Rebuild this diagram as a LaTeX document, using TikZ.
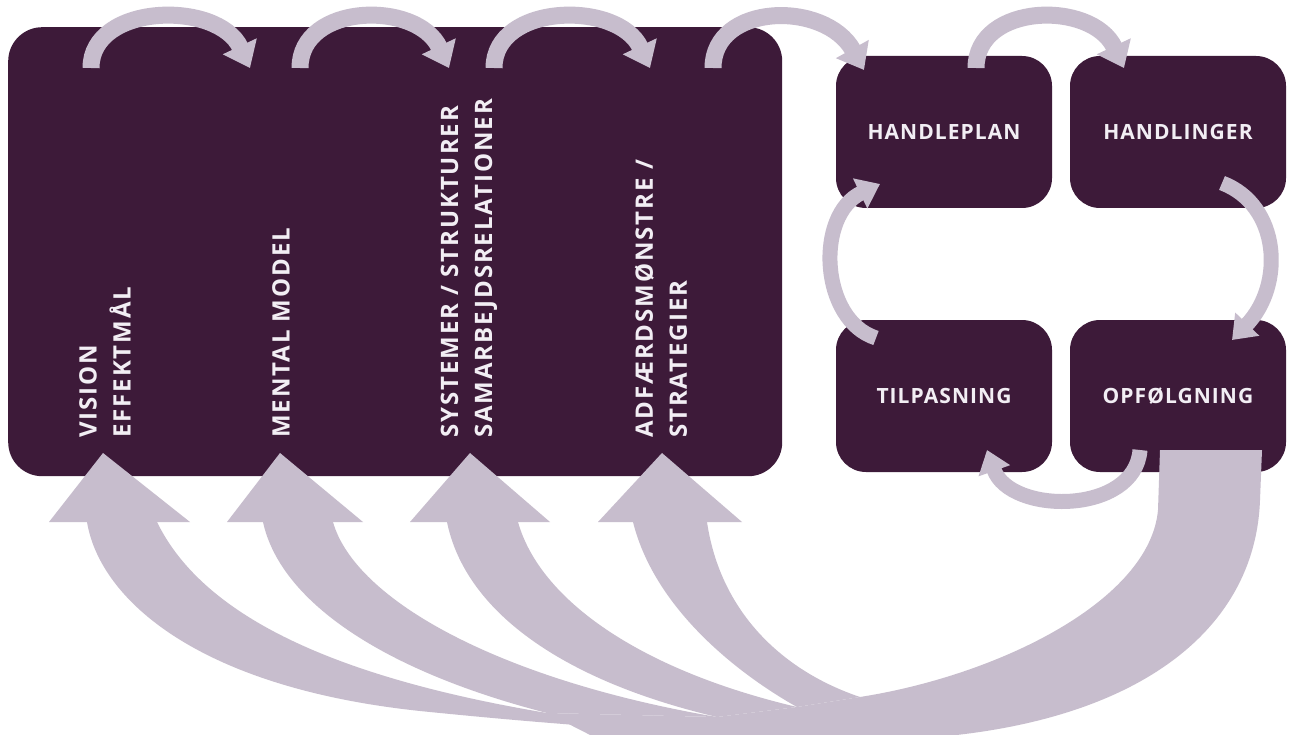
\documentclass[tikz,border=0pt]{standalone}
\usepackage{fontspec}
\setmainfont{Open Sans}
\usetikzlibrary{arrows.meta}
\definecolor{plum}{RGB}{61,26,57}
\definecolor{lav}{RGB}{199,189,205}
\definecolor{txt}{RGB}{242,238,244}
\newfontfamily\hfont{Open Sans}[LetterSpace=5]
\newfontfamily\vfont{Open Sans}[LetterSpace=8]
\begin{document}
\begin{tikzpicture}[x=1pt,y=-1pt,
  bigbox/.style={fill=plum, rounded corners=34pt, minimum width=774pt, minimum height=449pt, inner sep=0pt, anchor=north west},
  smallbox/.style={fill=plum, rounded corners=30pt, minimum width=216pt, minimum height=152pt, inner sep=0pt,
     text=txt, font=\hfont\bfseries\fontsize{21}{24}\selectfont},
  vlab/.style={rotate=90, anchor=west, align=left, inner sep=0pt, text=txt,
     font=\vfont\bfseries\fontsize{24}{34}\selectfont},
  arc/.style={draw=lav, line width=17pt, -{Triangle[width=36pt,length=24pt]}},
  arcthin/.style={draw=lav, line width=15pt, -{Triangle[width=32pt,length=22pt]}},
  big/.style={fill=lav}
]
\useasboundingbox (0,0) rectangle (1290,735);
\fill[white] (0,0) rectangle (1290,735);

% main box
\node[bigbox] (main) at (8,27) {};

% small boxes
\node[smallbox] (hp) at (944,132) {HANDLEPLAN};
\node[smallbox] (hl) at (1178,132) {HANDLINGER};
\node[smallbox] (tp) at (944,396) {TILPASNING};
\node[smallbox] (of) at (1178,396) {OPFØLGNING};

% rotated labels
\node[vlab] (vis) at (105,438) {VISION\\EFFEKTMÅL};
\node[vlab] (men) at (281,438) {MENTAL MODEL};
\node[vlab] (sys) at (469,438) {SYSTEMER / STRUKTURER\\SAMARBEJDSRELATIONER};
\node[vlab] (adf) at (661,438) {ADFÆRDSMØNSTRE /\\STRATEGIER};

% coordinates for arc ends
\coordinate (a1s) at (91,68);  \coordinate (a1e) at (250,68);
\coordinate (a2s) at (300,68); \coordinate (a2e) at (449,68);
\coordinate (a3s) at (494,68); \coordinate (a3e) at (650,68);
\coordinate (a4s) at (713,68); \coordinate (a4e) at (864,70);
\coordinate (b1s) at (976,68); \coordinate (b1e) at (1124,68);
\coordinate (b2s) at (1222,183); \coordinate (b2e) at (1232,340);
\coordinate (b3s) at (1140,450); \coordinate (b3e) at (987,450);
\coordinate (b4s) at (876,338); \coordinate (b4e) at (880,184);

\draw[arc] (a1s) .. controls (91,3) and (218,0) .. (a1e);
\draw[arc] (a2s) .. controls (300,3) and (417,0) .. (a2e);
\draw[arc] (a3s) .. controls (494,3) and (618,0) .. (a3e);
\draw[arc] (a4s) .. controls (713,3) and (825,0) .. (a4e);
\draw[arc] (b1s) .. controls (976,3) and (1092,0) .. (b1e);
\draw[arcthin] (b2s) .. controls (1280,205) and (1285,285) .. (b2e);
\draw[arcthin] (b3s) .. controls (1135,515) and (1010,515) .. (b3e);
\draw[arcthin] (b4s) .. controls (820,320) and (815,215) .. (b4e);

% big feedback arrows
% shafts
\fill[big] (87,522) .. controls (100,600) and (200,690) .. (430,712)
   .. controls (560,725) and (700,736) .. (900,740) -- (547,713)
   .. controls (320,675) and (200,610) .. (157,522) -- cycle;
\fill[big] (263,522) .. controls (280,600) and (380,670) .. (547,713)
   -- (717,717) .. controls (500,680) and (355,600) .. (333,522) -- cycle;
\fill[big] (447,522) .. controls (465,610) and (560,680) .. (717,717)
   -- (797,707) .. controls (640,670) and (540,600) .. (518,522) -- cycle;
\fill[big] (633,522) .. controls (655,610) and (740,675) .. (797,707)
   -- (860,697) .. controls (780,670) and (720,610) .. (707,522) -- cycle;
\fill[big] (547,713) -- (717,717) -- (797,707) -- (860,697) -- (900,740) -- (600,740) -- cycle;
% band from OPFOLGNING
\fill[big] (1160,450) -- (1262,450) -- (1260,500)
   .. controls (1255,640) and (1120,735) .. (880,740) -- (860,697)
   .. controls (1000,675) and (1150,600) .. (1158,510) -- cycle;
% heads
\fill[big] (103,453) -- (190,522) -- (49,522) -- cycle;
\fill[big] (280,453) -- (363,522) -- (227,522) -- cycle;
\fill[big] (470,453) -- (550,522) -- (410,522) -- cycle;
\fill[big] (662,453) -- (742,522) -- (598,522) -- cycle;
\end{tikzpicture}
\end{document}
